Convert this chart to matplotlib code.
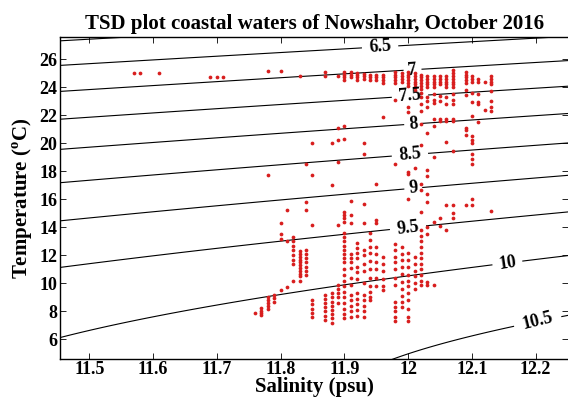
import numpy as np
import matplotlib
matplotlib.use("Agg")
import matplotlib.pyplot as plt
from matplotlib.ticker import FuncFormatter

plt.rcParams['font.family'] = ['Liberation Serif', 'DejaVu Serif']
plt.rcParams['font.weight'] = 'bold'
plt.rcParams['mathtext.fontset'] = 'custom'
plt.rcParams['mathtext.rm'] = 'Liberation Serif:bold'
plt.rcParams['mathtext.bf'] = 'Liberation Serif:bold'

# CTD samples, grouped by salinity (psu) -> temperatures (degC)
surface = {
    11.57: [25.05], 11.58: [25.05], 11.61: [25.0],
    11.69: [24.75], 11.70: [24.75], 11.71: [24.75],
    11.78: [25.15], 11.80: [25.15], 11.83: [24.8],
    11.87: [25.1, 24.8], 11.89: [24.8],
    11.90: [25.1, 24.9, 24.7, 24.5],
    11.91: [25.1, 24.9, 24.75],
    11.92: [25.0, 24.85, 24.7, 24.55],
    11.93: [24.95, 24.8, 24.6],
    11.94: [24.9, 24.75, 24.55],
    11.95: [24.9, 24.7, 24.5],
    11.96: [24.9, 24.7, 24.5, 24.3],
    11.98: [25.1, 24.9, 24.7, 24.5, 24.3],
    11.99: [25.0, 24.8, 24.6, 24.4],
    12.00: [25.1, 24.9, 24.7, 24.5, 24.3, 24.1],
    12.01: [25.0, 24.8, 24.6, 24.4, 24.2, 24.0, 23.8],
    12.02: [24.9, 24.7, 24.5, 24.3, 24.1, 23.9],
    12.03: [24.8, 24.6, 24.4, 24.2, 24.0],
    12.04: [24.8, 24.6, 24.4, 24.2, 24.0],
    12.05: [24.8, 24.6, 24.4, 24.2],
    12.06: [24.8, 24.6, 24.4, 24.2, 24.0],
    12.07: [25.2, 25.0, 24.8, 24.6, 24.4, 24.2, 24.0],
    12.09: [25.1, 24.9, 24.7, 24.5, 24.3],
    12.10: [24.8, 24.6, 24.4],
    12.11: [24.6, 24.4],
    12.12: [24.4],
    12.13: [24.8, 24.6, 24.4, 24.2],
}

thermocline = {
    11.78: [17.7],
    11.84: [18.5],
    11.85: [20.0, 17.7],
    11.88: [20.0, 17.0],
    11.89: [21.07, 20.2, 18.65],
    11.90: [21.2, 20.3],
    11.93: [20.0, 19.2],
    11.95: [17.07],
    11.96: [21.9],
    11.98: [23.1, 18.5],
    12.00: [22.6, 22.26, 17.93, 17.8, 16.0],
    12.01: [18.2],
    12.02: [23.6, 23.3, 22.8, 22.3, 21.4, 19.9, 17.07, 16.7],
    12.03: [23.3, 23.0, 22.6, 20.7, 18.1, 17.65, 16.36],
    12.04: [23.5, 23.1, 22.85, 21.75, 21.2, 19.0],
    12.05: [23.4, 23.0, 21.75, 21.6],
    12.06: [23.3, 22.8, 21.75, 21.6, 20.1],
    12.07: [23.5, 23.1, 22.8, 21.75, 21.6, 19.45],
    12.09: [23.8, 23.45, 21.07, 20.95, 20.6],
    12.10: [23.6, 22.97, 21.95, 20.5, 20.25, 20.0, 19.2, 18.9, 18.5, 16.05],
    12.11: [23.5, 22.97, 22.8, 21.5],
    12.12: [22.4],
    12.13: [23.7, 23.0, 22.6, 22.3],
}

deep = {
    11.76: [7.85],
    11.77: [8.25, 8.05, 7.9, 7.75],
    11.78: [9.0, 8.8, 8.6, 8.4, 8.2],
    11.79: [9.15, 8.95, 8.7],
    11.80: [14.3, 13.55, 13.2, 9.5],
    11.81: [15.24, 13.0, 9.75],
    11.82: [13.3, 13.0, 12.7, 12.4, 12.0, 11.7, 11.4, 10.2],
    11.83: [12.3, 12.1, 11.9, 11.7, 11.5, 11.3, 11.1, 10.9, 10.7, 10.5, 10.2],
    11.84: [15.83, 15.24, 12.4, 12.1, 11.8, 11.5, 11.2, 10.9, 10.6],
    11.85: [14.2, 8.8, 8.5, 8.2, 7.9, 7.6],
    11.87: [9.2, 8.9, 8.6, 8.3, 8.0, 7.7, 7.4],
    11.88: [9.3, 9.0, 8.7, 8.4, 8.1, 7.8, 7.5, 7.2],
    11.89: [14.17, 9.9, 9.6, 9.3, 9.0, 8.6],
    11.90: [15.07, 14.88, 14.69, 14.36, 13.6, 13.3, 13.0, 12.7, 12.4, 12.1,
            11.8, 11.5, 11.0, 10.6, 10.2, 9.8, 9.4, 9.0, 8.6, 8.2, 7.8, 7.5],
    11.91: [15.9, 14.88, 14.3, 12.1, 11.8, 11.5, 11.1, 10.4, 9.9, 9.2, 8.8,
            8.4, 8.0, 7.6],
    11.92: [12.9, 12.5, 12.2, 11.8, 11.2, 10.8, 10.3, 9.3, 8.9, 8.5, 8.1, 7.7],
    11.93: [15.65, 14.3, 12.4, 12.0, 11.4, 10.9, 10.0, 9.2, 8.8, 8.4, 8.0, 7.6],
    11.94: [13.6, 13.1, 12.6, 12.2, 11.6, 11.0, 10.4, 9.8, 9.4, 9.0, 8.8],
    11.95: [14.5, 14.3, 12.6, 12.1, 11.5, 11.0, 10.4, 9.8],
    11.96: [11.9, 11.4, 10.9, 10.3, 9.8, 9.5],
    11.98: [12.8, 12.4, 11.9, 11.5, 11.0, 10.4, 9.9, 8.7, 8.3, 8.0, 7.6, 7.3],
    11.99: [12.6, 12.1, 11.7, 11.2, 10.7, 10.1, 9.6, 9.1, 8.7, 8.3],
    12.00: [12.2, 11.7, 11.2, 10.6, 10.2, 9.8, 9.3, 8.8, 8.2, 7.6, 7.3],
    12.01: [11.9, 11.4, 10.9, 10.5, 10.0, 9.6],
    12.02: [15.07, 13.8, 13.4, 13.0, 12.6, 12.2, 11.8, 11.4, 11.0, 10.6,
            10.2, 9.9],
    12.03: [15.83, 14.0, 13.5, 10.1, 9.9],
    12.04: [14.4, 9.9],
    12.05: [14.65, 14.1],
    12.06: [15.6, 13.8],
    12.07: [15.6, 15.0, 14.7],
    12.09: [15.6],
    12.10: [15.6],
    12.13: [15.2],
}

# density contours: labelled ones, plus unlabelled ones at the edges
levels = [6.5, 7.0, 7.5, 8.0, 8.5, 9.0, 9.5, 10.0, 10.5]
edge_levels = [6.0, 11.0]
label_pos = [(11.956, 26.9), (12.007, 25.2), (12.003, 23.3), (12.008, 21.3),
             (12.003, 19.1), (12.008, 16.8), (12.0, 13.9), (12.155, 11.6),
             (12.203, 7.3)]

# Caspian water is denser than ocean water of the same salinity
CASPIAN_OFFSET = 1.01


def sigma_t(S, T):
    # UNESCO EOS-80 at surface pressure
    rho_w = (999.842594 + 6.793952e-2 * T - 9.095290e-3 * T**2
             + 1.001685e-4 * T**3 - 1.120083e-6 * T**4 + 6.536332e-9 * T**5)
    a = (0.824493 - 4.0899e-3 * T + 7.6438e-5 * T**2 - 8.2467e-7 * T**3
         + 5.3875e-9 * T**4)
    b = -5.72466e-3 + 1.0227e-4 * T - 1.6546e-6 * T**2
    return rho_w + a * S + b * S**1.5 + 4.8314e-4 * S**2 - 1000.0 + CASPIAN_OFFSET


def flatten(groups):
    sal, temp = [], []
    for s, ts in groups.items():
        sal += [s] * len(ts)
        temp += ts
    return sal, temp


fig = plt.figure(figsize=(5.68, 4.05), dpi=100)
ax = fig.add_axes([0.1056, 0.1148, 0.8952, 0.7938])

ss, tt = np.meshgrid(np.linspace(11.3, 12.4, 300), np.linspace(3, 29, 300))
sig = sigma_t(ss, tt)
ax.contour(ss, tt, sig, levels=edge_levels, colors='k', linewidths=0.8)
cs = ax.contour(ss, tt, sig, levels=levels, colors='k', linewidths=0.8)
lbls = ax.clabel(cs, manual=label_pos, fmt='%g', inline=True,
                 inline_spacing=2, fontsize=13)
for t in lbls:
    t.set_fontweight('bold')

for group in (surface, thermocline, deep):
    s, t = flatten(group)
    ax.plot(s, t, 'o', color='#d81e1e', markersize=2.7, markeredgewidth=0)

ax.set_xlim(11.454, 12.2514)
ax.set_ylim(4.63, 27.59)
ax.set_xticks(np.arange(11.5, 12.25, 0.1))
ax.set_yticks(np.arange(6, 27, 2))
ax.xaxis.set_major_formatter(FuncFormatter(lambda v, p: '%g' % round(v, 2)))
ax.tick_params(direction='in', top=True, right=True, length=4, width=0.6,
               labelsize=13, pad=2)
ax.spines['right'].set_visible(False)
for sp in ('left', 'bottom', 'top'):
    ax.spines[sp].set_linewidth(1.0)

ax.set_title('TSD plot coastal waters of Nowshahr, October 2016',
             fontsize=15, fontweight='bold', pad=6)
ax.set_xlabel('Salinity (psu)', fontsize=15, fontweight='bold', labelpad=-1)
ax.set_ylabel(r'Temperature ($^{\rm o}$C)', fontsize=15, fontweight='bold',
              labelpad=3)

fig.savefig('out.png', dpi=100)
